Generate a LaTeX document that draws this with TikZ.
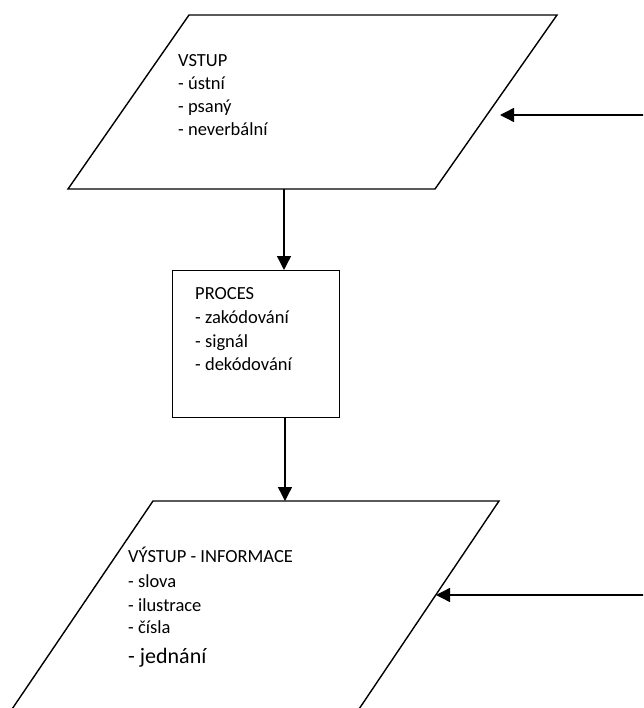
\documentclass[tikz,border=0pt]{standalone}
\usepackage{fontspec}
\setmainfont{Carlito}
\usetikzlibrary{arrows.meta}
\tikzset{
  shapeline/.style={line width=1.4pt, line join=miter},
  arr/.style={line width=1.4pt, -{Triangle[length=14pt,width=14pt]}},
  txt/.style={anchor=base west, inner sep=0pt, font=\fontsize{18.5}{22}\selectfont},
  bigtxt/.style={anchor=base west, inner sep=0pt, font=\fontsize{22}{26}\selectfont},
}
\begin{document}
\begin{tikzpicture}[x=1pt,y=-1pt]
\useasboundingbox (0,0) rectangle (643,708);
\clip (0,0) rectangle (643,708);
% top parallelogram
\coordinate (t1) at (189,15);
\coordinate (t2) at (557,15);
\coordinate (t3) at (435,189);
\coordinate (t4) at (68,189);
\draw[shapeline] (t1) -- (t2) -- (t3) -- (t4) -- cycle;
\node[txt] (v0) at (178,67) {VSTUP};
\node[txt] (v1) at (178,90) {- ústní};
\node[txt] (v2) at (178,113) {- psaný};
\node[txt] (v3) at (178,136) {- neverbální};
% process box
\node[draw, shapeline, anchor=north west, minimum width=167pt, minimum height=147pt, inner sep=0pt] (proc) at (172,270) {};
\node[txt] (p0) at (195,299) {PROCES};
\node[txt] (p1) at (195,323) {- zakódování};
\node[txt] (p2) at (195,347) {- signál};
\node[txt] (p3) at (195,370) {- dekódování};
% bottom parallelogram
\coordinate (b1) at (153,501);
\coordinate (b2) at (499,501);
\coordinate (b3) at (355,715);
\coordinate (b4) at (8,715);
\draw[shapeline] (b4) -- (b1) -- (b2) -- (b3);
\node[txt] (o0) at (128,562) {VÝSTUP - INFORMACE};
\node[txt] (o1) at (128,587) {- slova};
\node[txt] (o2) at (128,611) {- ilustrace};
\node[txt] (o3) at (128,633) {- čísla};
\node[bigtxt] (o4) at (128,663) {- jednání};
% connectors
\coordinate (a1) at (284,189);
\draw[arr] (a1) -- (a1 |- proc.north);
\coordinate (a2) at (285,417);
\draw[arr] (a2) -- (a2 |- b1);
\coordinate (r1) at (645,115);
\coordinate (r1e) at (500,115);
\draw[arr] (r1) -- (r1e);
\coordinate (r2) at (645,595);
\coordinate (r2e) at (436,595);
\draw[arr] (r2) -- (r2e);
\end{tikzpicture}
\end{document}
